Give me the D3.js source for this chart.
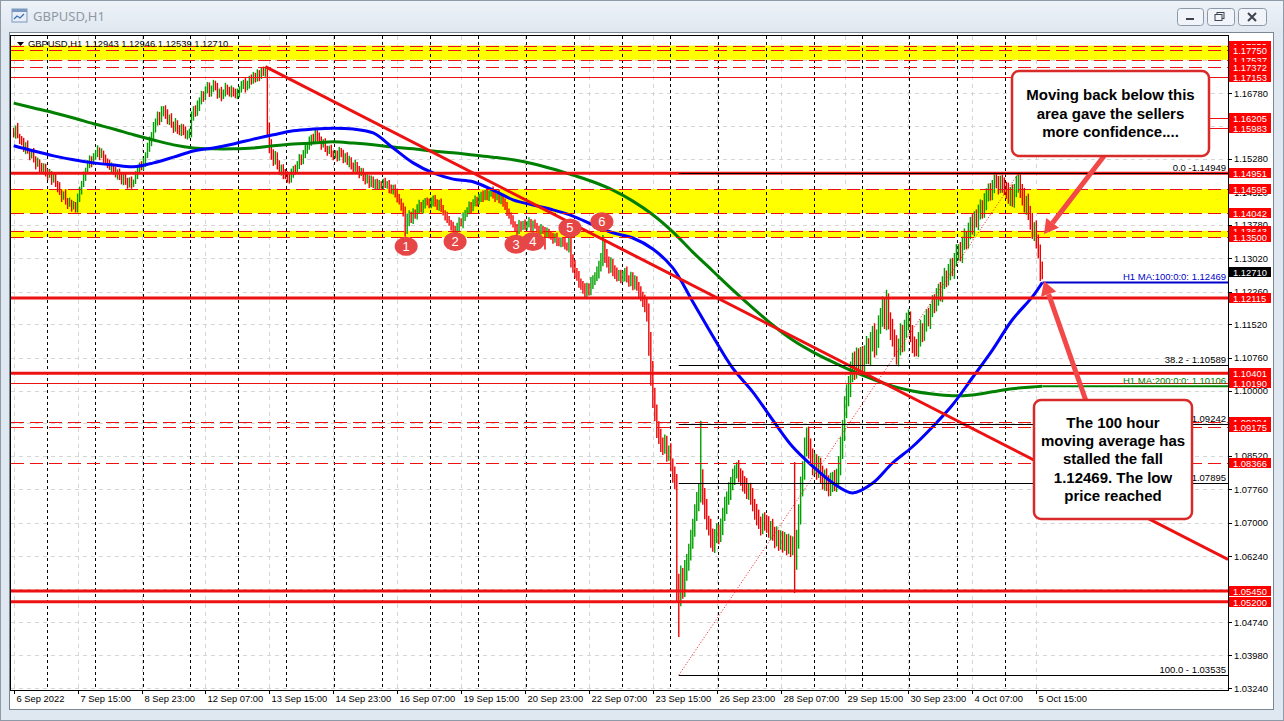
<!DOCTYPE html>
<html><head><meta charset="utf-8">
<script src="https://cdn.jsdelivr.net/npm/d3@7"></script>
<style>
html,body{margin:0;padding:0;background:#dfe7f0;overflow:hidden;}
svg{display:block;}
</style></head><body>
<svg id="c" width="1284" height="721"></svg>
<script>
// ---------------- DATA ----------------
const symbolTitle = "GBPUSD,H1";
const lastOHLC = [1.12943, 1.12946, 1.12539, 1.12710];
const firstOpen = 1.1590;
// hourly closes per trading day
const d06 = [1.1585,1.1598,1.1580,1.1572,1.1565,1.1552,1.1560,1.1545,1.1535,1.1540,1.1528,1.1515,1.1522,1.1508,1.1500,1.1510,1.1498];
const d07 = [1.1490,1.1495,1.1480,1.1486,1.1472,1.1465,1.1452,1.1440,1.1446,1.1432,1.1425,1.1430,1.1418,1.1424,1.1412,1.1435,1.1455,1.1470,1.1488,1.1502,1.1515,1.1528,1.1520,1.1532];
const d08 = [1.1540,1.1548,1.1535,1.1542,1.1530,1.1522,1.1515,1.1508,1.1512,1.1500,1.1492,1.1498,1.1485,1.1478,1.1490,1.1475,1.1468,1.1480,1.1470,1.1476,1.1490,1.1505,1.1512,1.1508];
const d09 = [1.1520,1.1535,1.1552,1.1568,1.1580,1.1598,1.1612,1.1625,1.1618,1.1635,1.1642,1.1630,1.1615,1.1622,1.1605,1.1598,1.1610,1.1595,1.1588,1.1600,1.1592,1.1580,1.1585,1.1590];
const d12 = [1.1625,1.1640,1.1632,1.1648,1.1660,1.1672,1.1668,1.1685,1.1692,1.1680,1.1688,1.1698,1.1690,1.1675,1.1682,1.1670,1.1678,1.1690,1.1684,1.1676,1.1685,1.1680,1.1672,1.1678];
const d13 = [1.1685,1.1695,1.1702,1.1690,1.1698,1.1710,1.1705,1.1718,1.1712,1.1722,1.1716,1.1728,1.1725,1.1730,1.1595,1.1560,1.1540,1.1525,1.1535,1.1515,1.1500,1.1508,1.1495,1.1490];
const d14 = [1.1485,1.1480,1.1495,1.1505,1.1500,1.1515,1.1528,1.1522,1.1540,1.1548,1.1555,1.1568,1.1575,1.1570,1.1585,1.1578,1.1572,1.1560,1.1565,1.1552,1.1545,1.1550,1.1540,1.1535];
const d15 = [1.1540,1.1532,1.1545,1.1538,1.1528,1.1535,1.1520,1.1525,1.1512,1.1505,1.1515,1.1502,1.1495,1.1500,1.1488,1.1478,1.1485,1.1472,1.1480,1.1468,1.1475,1.1465,1.1470,1.1468];
const d16 = [1.1475,1.1468,1.1472,1.1460,1.1455,1.1462,1.1450,1.1440,1.1432,1.1420,1.1410,1.1368,1.1385,1.1398,1.1390,1.1405,1.1398,1.1415,1.1422,1.1412,1.1425,1.1432,1.1428,1.1424];
const d19 = [1.1430,1.1438,1.1425,1.1420,1.1428,1.1415,1.1405,1.1398,1.1390,1.1382,1.1375,1.1368,1.1362,1.1372,1.1385,1.1380,1.1395,1.1402,1.1410,1.1420,1.1415,1.1428,1.1435,1.1430];
const d20 = [1.1438,1.1445,1.1440,1.1450,1.1442,1.1448,1.1455,1.1446,1.1440,1.1448,1.1435,1.1442,1.1430,1.1420,1.1408,1.1398,1.1390,1.1380,1.1372,1.1365,1.1378,1.1372,1.1380,1.1375];
const d21 = [1.1378,1.1385,1.1372,1.1380,1.1375,1.1368,1.1362,1.1370,1.1365,1.1358,1.1362,1.1355,1.1350,1.1345,1.1352,1.1340,1.1335,1.1342,1.1338,1.1330,1.1325,1.1345,1.1300,1.1285];
const d22 = [1.1270,1.1262,1.1248,1.1240,1.1232,1.1225,1.1235,1.1228,1.1245,1.1252,1.1260,1.1270,1.1285,1.1300,1.1330,1.1310,1.1295,1.1280,1.1290,1.1275,1.1268,1.1260,1.1265,1.1258];
const d23 = [1.1262,1.1270,1.1255,1.1248,1.1260,1.1242,1.1250,1.1238,1.1225,1.1215,1.1205,1.1195,1.1180,1.1110,1.1040,1.0985,1.0950,1.0915,1.0895,1.0880,1.0870,1.0885,1.0855,1.0862];
const d26 = [1.0830,1.0815,1.0795,1.0560,1.0540,1.0575,1.0555,1.0590,1.0610,1.0630,1.0660,1.0690,1.0720,1.0745,1.0770,1.0800,1.0760,1.0730,1.0700,1.0690,1.0665,1.0650,1.0670,1.0680];
const d27 = [1.0670,1.0690,1.0720,1.0740,1.0755,1.0770,1.0790,1.0805,1.0815,1.0825,1.0810,1.0800,1.0790,1.0780,1.0770,1.0775,1.0760,1.0740,1.0725,1.0710,1.0700,1.0690,1.0705,1.0700];
const d28 = [1.0695,1.0680,1.0690,1.0675,1.0660,1.0670,1.0655,1.0665,1.0650,1.0660,1.0645,1.0655,1.0640,1.0650,1.0615,1.0660,1.0720,1.0780,1.0820,1.0870,1.0900,1.0870,1.0850,1.0830];
const d29 = [1.0840,1.0820,1.0830,1.0810,1.0795,1.0805,1.0790,1.0780,1.0792,1.0800,1.0790,1.0805,1.0830,1.0870,1.0910,1.0960,1.0990,1.1010,1.1040,1.1065,1.1050,1.1075,1.1060,1.1080];
const d30 = [1.1060,1.1085,1.1100,1.1080,1.1110,1.1130,1.1100,1.1120,1.1150,1.1170,1.1190,1.1160,1.1200,1.1160,1.1140,1.1120,1.1100,1.1080,1.1100,1.1130,1.1110,1.1140,1.1160,1.1165];
const o03 = [1.1130,1.1110,1.1100,1.1095,1.1115,1.1140,1.1130,1.1155,1.1170,1.1160,1.1185,1.1200,1.1195,1.1215,1.1230,1.1220,1.1245,1.1260,1.1255,1.1270,1.1285,1.1275,1.1300,1.1315];
const o04 = [1.1320,1.1310,1.1335,1.1350,1.1340,1.1365,1.1380,1.1370,1.1395,1.1385,1.1405,1.1420,1.1410,1.1430,1.1445,1.1460,1.1450,1.1470,1.1485,1.1475,1.1465,1.1480,1.1470,1.1460];
const o05 = [1.1455,1.1440,1.1450,1.1435,1.1455,1.1470,1.1478,1.1455,1.1440,1.1420,1.1430,1.1405,1.1385,1.1360,1.1370,1.1340,1.1320,1.12943,1.12710];
// wicks above / below the bar body, in pips
const wickUp = [
9,6,12,5,8,11,6,10,5,8,13,6,9,5,11,8,7,
7,10,5,11,8,6,10,5,8,13,7,10,5,8,6,14,10,8,11,6,10,8,6,9,
8,11,6,10,5,8,7,11,8,5,10,6,8,11,5,8,10,6,8,5,10,7,8,11,
10,8,13,11,9,14,8,11,10,13,6,8,11,7,10,8,11,6,10,8,7,10,8,7,
11,8,10,13,8,11,10,8,11,10,7,10,8,11,6,10,8,11,7,8,10,6,8,10,
8,10,6,11,8,7,10,8,6,10,8,7,10,8,8,16,13,10,11,8,10,7,8,10,
10,8,11,7,10,8,11,10,8,13,10,11,8,10,11,8,10,7,8,10,6,8,10,7,
8,7,10,8,11,6,8,10,7,8,11,6,10,8,7,10,8,6,10,8,7,8,10,7,
8,10,6,8,10,7,8,10,8,6,8,10,19,13,10,11,8,10,13,8,10,7,8,10,
10,7,8,11,7,10,8,6,10,8,7,10,8,11,10,8,11,10,8,11,10,8,10,7,
10,8,11,7,10,8,6,10,8,7,10,8,6,8,10,7,8,10,6,8,11,8,7,10,
8,10,6,8,10,7,8,10,6,8,10,7,8,10,6,8,10,7,8,11,8,30,13,11,
13,10,11,8,10,13,11,10,14,11,10,13,11,14,25,16,13,11,14,10,11,13,10,11,
11,10,13,8,11,10,13,11,10,13,11,14,16,19,24,28,22,19,16,19,14,16,13,14,
19,16,13,16,24,28,22,25,19,22,24,19,22,25,19,132,22,19,24,16,19,22,16,19,
16,20,14,19,16,22,14,18,16,13,18,14,19,16,22,14,16,19,14,18,20,14,16,19,
18,20,14,19,16,22,14,18,16,19,14,20,16,19,188,24,22,25,20,24,17,19,22,19,
19,16,22,18,20,16,19,18,22,16,20,18,22,25,24,28,25,24,27,22,25,24,22,20,
22,19,25,20,24,18,24,20,22,19,25,20,30,22,19,24,20,27,19,24,20,22,18,20,
16,20,14,18,19,22,14,18,16,19,13,18,20,19,14,18,16,20,14,19,16,18,14,19,
14,19,16,20,14,18,16,22,14,18,19,16,14,20,16,12,13,10,8,12,14,10,12,16,
16,19,14,20,16,19,17,18,16,22,14,19,16,20,14,18,16,13,0.3];
const wickDn = [
8,11,5,10,6,8,13,5,10,6,8,11,5,10,6,8,10,
10,5,11,6,8,13,6,10,5,8,11,6,10,5,6,6,5,8,6,10,5,8,11,6,
6,8,10,5,11,6,8,5,10,8,6,11,5,8,10,6,8,5,10,6,5,8,10,6,
6,10,5,8,11,6,10,8,13,6,10,11,8,10,6,11,8,10,6,8,10,6,8,10,
13,10,8,6,11,8,10,6,8,11,10,8,6,10,8,11,6,8,10,6,8,10,6,8,
10,6,8,11,6,10,8,6,10,8,11,6,8,10,16,19,14,13,10,11,8,10,13,8,
11,8,6,10,8,6,10,8,6,10,8,6,10,8,6,10,8,11,6,8,10,6,8,10,
6,10,8,6,10,8,6,11,8,10,6,8,11,6,10,8,6,10,8,6,10,8,6,8,
10,6,8,10,6,8,10,11,8,10,13,17,11,10,8,10,6,8,10,6,8,10,6,8,
8,10,6,8,10,8,6,10,8,6,10,8,12,10,8,6,10,8,6,8,10,6,8,10,
6,8,10,6,8,10,6,8,10,6,8,10,11,8,10,6,11,8,10,13,8,10,6,8,
10,6,8,10,6,8,10,6,8,36,10,8,6,10,8,10,6,8,10,8,6,10,19,16,
14,11,13,10,11,14,13,11,10,13,11,10,14,13,16,19,14,13,11,14,13,11,10,13,
10,13,8,11,10,13,11,10,13,11,14,16,22,30,28,24,19,22,16,19,16,13,16,14,
13,24,19,40,100,30,28,24,22,19,16,19,22,16,19,24,19,22,16,19,22,16,19,16,
19,14,18,16,20,14,18,16,19,14,18,16,19,14,16,18,19,14,18,16,14,19,16,18,
18,14,19,16,18,14,19,16,18,14,19,16,18,14,75,22,19,24,20,22,19,24,20,22,
19,22,18,20,19,22,18,20,19,22,18,20,19,22,25,24,22,25,24,20,25,22,24,20,
22,20,24,19,22,20,24,19,22,20,24,19,22,20,24,19,22,20,24,19,22,20,19,22,
19,24,22,16,18,14,19,16,20,13,19,17,18,14,21,16,18,13,19,15,18,14,20,16,
18,15,19,14,17,16,20,14,18,13,19,15,18,16,19,14,17,16,20,14,18,15,19,14,
18,14,19,16,18,14,19,16,18,14,19,16,18,14,19,16,18,44,17.1];

// moving averages (bar index, value)
const maIdx = [0,10,20,30,40,50,60,70,80,90,100,110,120,130,140,150,160,170,180,190,200,210,220,230,240,250,260,270,280,290,300,310,320,330,340,350,360,370,380,390,400,410,420,430,440,450,460,470,480,490,500,510,515];
const ma100 = [1.1558,1.1546,1.1535,1.1526,1.1519,1.1514,1.1510,1.1519,1.1532,1.1546,1.1553,1.1562,1.1573,1.1583,1.1592,1.1596,1.1598,1.1596,1.1587,1.1553,1.1519,1.1496,1.1482,1.1476,1.1457,1.1435,1.1423,1.1412,1.1398,1.1378,1.1360,1.1348,1.1323,1.1280,1.1203,1.1125,1.1052,1.0998,1.0934,1.0873,1.0829,1.0791,1.0768,1.0790,1.0836,1.0873,1.0918,1.0968,1.1030,1.1093,1.1162,1.1214,1.12469];
const ma200 = [1.1655,1.1644,1.1633,1.1621,1.1608,1.1596,1.1583,1.1571,1.1560,1.1553,1.1551,1.1551,1.1553,1.1558,1.1562,1.1564,1.1567,1.1564,1.1560,1.1555,1.1551,1.1546,1.1542,1.1537,1.1532,1.1526,1.1517,1.1505,1.1491,1.1476,1.1457,1.1432,1.1401,1.1362,1.1316,1.1273,1.1230,1.1189,1.1150,1.1116,1.1089,1.1066,1.1045,1.1027,1.1011,1.1000,1.0993,1.0989,1.0991,1.0998,1.1005,1.1009,1.10106];
const maLabels = ["H1 MA:100:0:0: 1.12469", "H1 MA:200:0:0: 1.10106"];

// axes
const priceTicks = [1.03240,1.03980,1.04740,1.05500,1.06240,1.07000,1.07760,1.08520,1.09280,1.10000,1.10760,1.11520,1.12260,1.13020,1.13780,1.14520,1.15280,1.16040,1.16780,1.17540];
const timeLabels = ["6 Sep 2022","7 Sep 15:00","8 Sep 23:00","12 Sep 07:00","13 Sep 15:00","14 Sep 23:00","16 Sep 07:00","19 Sep 15:00","20 Sep 23:00","22 Sep 07:00","23 Sep 15:00","26 Sep 23:00","28 Sep 07:00","29 Sep 15:00","30 Sep 23:00","4 Oct 07:00","5 Oct 15:00"];
const timeLabelStep = 32;

// drawn levels
const zones = [[1.17859,1.17537],[1.14595,1.14042],[1.13643,1.13500]];
const dashLevels = [1.17859,1.17750,1.17537,1.17372,1.14595,1.14042,1.13643,1.13500,1.09294,1.09175,1.08366];
const thinLevels = [1.17153,1.10190];
const shortLevels = [1.16205,1.15983];
const thickLevels = [1.14951,1.12115,1.10401,1.05450,1.05200];
const levelLabelOrder = [1.17859,1.17537,1.17750,1.17372,1.17153,1.16205,1.15983,1.14951,1.14595,1.14042,1.13643,1.13500,1.12115,1.10401,1.10190,1.09294,1.09175,1.08366,1.05450,1.05200];
// trend line anchors [bar index, price]
const trendA = [126, 1.1738], trendB = [426, 1.1040];
// fibonacci
const fibLowIdx = 333, fibLow = 1.03535, fibHighIdx = 503, fibHigh = 1.14949;
const fibLevels = [0, 38.2, 50, 61.8, 100];
const fibTexts = ["0.0 -1.14949","38.2 - 1.10589","1.09242","1.07895","100.0 - 1.03535"];
// numbered touches
const touchIdx = [196.5, 221, 251.5, 260, 278.5, 294.5];
const touchPrice = [1.1329, 1.1340, 1.1334, 1.1340, 1.1371, 1.1385];
const touchText = ["1","2","3","4","5","6"];
// notes
const note1 = ["Moving back below this","area gave the sellers","more confidence...."];
const note2 = ["The 100 hour","moving average has","stalled the fall","1.12469. The low","price reached"];

// ---------------- BUILD ----------------
const PIP = 0.0001;
const days = [d06,d07,d08,d09,d12,d13,d14,d15,d16,d19,d20,d21,d22,d23,d26,d27,d28,d29,d30,o03,o04,o05];
const closes = days.flat();
const dayStarts = []; {let a=0; days.forEach(d=>{dayStarts.push(a); a+=d.length;});}
const bars = closes.map((c,i)=>{
  const o = i===0 ? firstOpen : closes[i-1];
  return {i, o, c, hi: Math.max(o,c)+wickUp[i]*PIP, lo: Math.min(o,c)-wickDn[i]*PIP};
});
const N = bars.length;

const svg = d3.select('#c');
const W=1284, H=721;
const PL=11, PR=1228, PT=36, PB=690;
const y = d3.scaleLinear().domain([1.0324,1.1678]).range([688,93]);
const x = d3.scaleLinear().domain([0,512]).range([13.7,1036.3]);
const px = i => Math.round(x(i)) + 0.5;
const py = p => Math.round(y(p)) + 0.5;

const RED='#ee1111', GREENBAR='#00a000', REDBAR='#f00000';
const AXFONT = "'Liberation Sans', Arial, sans-serif";

// window chrome
svg.append('rect').attr('x',0).attr('y',0).attr('width',W).attr('height',H).attr('fill','#dfe7f0');
const grad = svg.append('defs').append('linearGradient').attr('id','tg').attr('x1',0).attr('y1',0).attr('x2',0).attr('y2',1);
grad.append('stop').attr('offset',0).attr('stop-color','#eef3f8');
grad.append('stop').attr('offset',1).attr('stop-color','#dfe7f0');
svg.append('rect').attr('x',0).attr('y',0).attr('width',W).attr('height',33).attr('fill','url(#tg)');
svg.append('rect').attr('x',0.5).attr('y',0.5).attr('width',W-1).attr('height',H-1).attr('fill','none').attr('stroke','#8e9aa8');
// icon
const ic = svg.append('g').attr('transform','translate(12,9)');
ic.append('rect').attr('width',15).attr('height',13).attr('fill','#e7eef8').attr('stroke','#7b98c0');
ic.append('rect').attr('width',15).attr('height',3).attr('fill','#7b98c0');
ic.append('path').attr('d','M2,10 L5,7 L8,9 L12,5').attr('fill','none').attr('stroke','#3a6db0').attr('stroke-width',1.2);
svg.append('text').attr('x',33).attr('y',21).text(symbolTitle)
  .attr('font-family',"'Noto Sans', 'DejaVu Sans', sans-serif").attr('font-size',13).attr('fill','#8f98a3');
// buttons
[[1177,26],[1207,27],[1238,28]].forEach(([bx,bw],k)=>{
  svg.append('rect').attr('x',bx+0.5).attr('y',8.5).attr('width',bw).attr('height',17).attr('rx',3)
    .attr('fill','#f1f4f8').attr('stroke','#8c98a6');
  const cx=bx+bw/2, cy=17;
  if(k===0) svg.append('rect').attr('x',cx-4).attr('y',cy+1).attr('width',8).attr('height',2).attr('fill','#3c4450');
  if(k===1){
    svg.append('rect').attr('x',cx-3.5).attr('y',cy-4.5).attr('width',7).attr('height',6).attr('fill','none').attr('stroke','#3c4450');
    svg.append('rect').attr('x',cx-5.5).attr('y',cy-2.5).attr('width',7).attr('height',6).attr('fill','#f1f4f8').attr('stroke','#3c4450');
  }
  if(k===2) svg.append('path').attr('d',`M${cx-4},${cy-4}L${cx+4},${cy+4}M${cx+4},${cy-4}L${cx-4},${cy+4}`).attr('stroke','#3c4450').attr('stroke-width',2);
});
// chart panel
svg.append('rect').attr('x',9.5).attr('y',32.5).attr('width',1264).attr('height',677).attr('fill','#ffffff').attr('stroke','#7c8794');
svg.append('rect').attr('x',PL-0.5).attr('y',PT-0.5).attr('width',PR-PL+1).attr('height',PB-PT+1).attr('fill','none').attr('stroke','#000');

svg.append('defs').append('clipPath').attr('id','clip').append('rect').attr('x',PL).attr('y',PT).attr('width',PR-PL).attr('height',PB-PT);
const plot = svg.append('g').attr('clip-path','url(#clip)');

// grid
plot.selectAll('line.hg').data(priceTicks).join('line')
  .attr('x1',PL).attr('x2',PR).attr('y1',d=>py(d)).attr('y2',d=>py(d))
  .attr('stroke','#d6d6d6').attr('stroke-dasharray','4,4');
plot.selectAll('line.vg').data(timeLabels).join('line')
  .attr('x1',(d,k)=>px(k*timeLabelStep)).attr('x2',(d,k)=>px(k*timeLabelStep)).attr('y1',PT).attr('y2',PB)
  .attr('stroke','#d6d6d6').attr('stroke-dasharray','4,4');

// yellow zones
plot.selectAll('rect.zone').data(zones).join('rect')
  .attr('x',PL).attr('width',PR-PL).attr('y',d=>y(d[0])).attr('height',d=>y(d[1])-y(d[0]))
  .attr('fill','#ffff00');

// day separators
plot.selectAll('line.sep').data(dayStarts.slice(1)).join('line')
  .attr('x1',d=>px(d)-1).attr('x2',d=>px(d)-1).attr('y1',PT).attr('y2',PB)
  .attr('stroke','#000').attr('stroke-dasharray','3,3');

// bars (high-low lines)
plot.append('g').selectAll('line').data(bars).join('line')
  .attr('x1',d=>x(d.i)).attr('x2',d=>x(d.i))
  .attr('y1',d=>y(d.hi)).attr('y2',d=>y(d.lo))
  .attr('stroke',d=>d.c>=d.o?GREENBAR:REDBAR).attr('stroke-width',1.4);

// moving averages
const maLine = d3.line().x((d,k)=>x(maIdx[k])).y(d=>y(d)).curve(d3.curveCatmullRom);
plot.append('path').attr('d',maLine(ma200)).attr('fill','none').attr('stroke','#008000').attr('stroke-width',3);
plot.append('path').attr('d',maLine(ma100)).attr('fill','none').attr('stroke','#0000ff').attr('stroke-width',3);
// MA value lines
const maLast = [ma100[ma100.length-1], ma200[ma200.length-1]];
const maCol = ['#0000cc','#008000'];
maLast.forEach((v,k)=>{
  plot.append('line').attr('x1',px(N-1)).attr('x2',PR).attr('y1',y(v)).attr('y2',y(v)).attr('stroke',maCol[k]).attr('stroke-width',2);
});

// horizontal levels
plot.selectAll('line.dash').data(dashLevels).join('line')
  .attr('x1',PL).attr('x2',PR).attr('y1',d=>py(d)).attr('y2',d=>py(d))
  .attr('stroke',RED).attr('stroke-dasharray','13,6');
plot.selectAll('line.thin').data(thinLevels).join('line')
  .attr('x1',PL).attr('x2',PR).attr('y1',d=>py(d)).attr('y2',d=>py(d)).attr('stroke',RED);
plot.selectAll('line.short').data(shortLevels).join('line')
  .attr('x1',1150).attr('x2',PR).attr('y1',d=>py(d)).attr('y2',d=>py(d)).attr('stroke',RED);
plot.selectAll('line.thick').data(thickLevels).join('line')
  .attr('x1',PL).attr('x2',PR).attr('y1',d=>y(d)).attr('y2',d=>y(d)).attr('stroke',RED).attr('stroke-width',3);

// trend line (ray to the right)
{
  const slope = (y(trendB[1])-y(trendA[1]))/(x(trendB[0])-x(trendA[0]));
  const x0 = x(trendA[0]), y0 = y(trendA[1]);
  plot.append('line').attr('x1',x0).attr('y1',y0).attr('x2',PR).attr('y2',y0+slope*(PR-x0))
    .attr('stroke',RED).attr('stroke-width',3);
}

// fibonacci
const fibPrice = l => fibHigh - l/100*(fibHigh-fibLow);
plot.append('line').attr('x1',x(fibLowIdx)).attr('y1',y(fibLow)).attr('x2',x(fibHighIdx)).attr('y2',y(fibHigh))
  .attr('stroke',RED).attr('stroke-dasharray','1,2');
plot.selectAll('line.fib').data(fibLevels).join('line')
  .attr('x1',x(fibLowIdx)).attr('x2',PR).attr('y1',d=>py(fibPrice(d))).attr('y2',d=>py(fibPrice(d)))
  .attr('stroke','#000');
plot.selectAll('text.fib').data(fibLevels).join('text')
  .attr('x',PR-2).attr('y',d=>y(fibPrice(d))-2).attr('text-anchor','end')
  .text((d,k)=>fibTexts[k]).attr('font-family',AXFONT).attr('font-size',9.5).attr('fill','#000');
// MA labels
maLabels.forEach((t,k)=>{
  plot.append('text').attr('x',PR-2).attr('y',y(maLast[k])-2).attr('text-anchor','end').text(t)
    .attr('font-family',AXFONT).attr('font-size',9.5).attr('fill',maCol[k]);
});

// chart title
svg.append('path').attr('d','M17,42 L24,42 L20.5,46 Z').attr('fill','#000');
svg.append('text').attr('x',28).attr('y',47).text(`${symbolTitle}  ${lastOHLC.map(v=>v.toFixed(5)).join(' ')}`)
  .attr('font-family',AXFONT).attr('font-size',9.4).attr('fill','#000');

// numbered touches
const tg = svg.append('g');
touchIdx.forEach((ti,k)=>{
  tg.append('ellipse').attr('cx',x(ti)).attr('cy',y(touchPrice[k])).attr('rx',11.5).attr('ry',9.5).attr('fill','#e64646');
  tg.append('text').attr('x',x(ti)).attr('y',y(touchPrice[k])+4.5).attr('text-anchor','middle').text(touchText[k])
    .attr('font-family',AXFONT).attr('font-size',13).attr('fill','#fff');
});

// right price axis
svg.append('line').attr('x1',PR+0.5).attr('x2',PR+0.5).attr('y1',PT).attr('y2',PB+1).attr('stroke','#000');
svg.append('line').attr('x1',PL).attr('x2',PR+1).attr('y1',PB+0.5).attr('y2',PB+0.5).attr('stroke','#000');
const ax = svg.append('g');
priceTicks.forEach(p=>{
  ax.append('line').attr('x1',PR).attr('x2',PR+4).attr('y1',py(p)).attr('y2',py(p)).attr('stroke','#000');
  ax.append('text').attr('x',PR+6).attr('y',y(p)+3.5).text(p.toFixed(5))
    .attr('font-family',AXFONT).attr('font-size',9.4).attr('fill','#000');
});
levelLabelOrder.forEach(p=>{
  ax.append('rect').attr('x',PR+1).attr('y',Math.round(y(p))-5).attr('width',42).attr('height',10).attr('fill','#ff0000');
  ax.append('text').attr('x',PR+5).attr('y',Math.round(y(p))+3.5).text(p.toFixed(5))
    .attr('font-family',AXFONT).attr('font-size',9.4).attr('fill','#fff');
});
{
  const p = lastOHLC[3];
  ax.append('rect').attr('x',PR+1).attr('y',Math.round(y(p))-5).attr('width',42).attr('height',10).attr('fill','#000');
  ax.append('text').attr('x',PR+5).attr('y',Math.round(y(p))+3.5).text(p.toFixed(5))
    .attr('font-family',AXFONT).attr('font-size',9.4).attr('fill','#fff');
}
// bottom time axis
timeLabels.forEach((t,k)=>{
  const xx = px(k*timeLabelStep);
  ax.append('line').attr('x1',xx).attr('x2',xx).attr('y1',PB).attr('y2',PB+4).attr('stroke','#000');
  ax.append('text').attr('x',xx+2).attr('y',PB+12).text(t)
    .attr('font-family',AXFONT).attr('font-size',9.4).attr('fill','#000');
});

// notes with arrows
function arrow(x1,y1,x2,y2){
  const col='#f24848';
  const a = Math.atan2(y2-y1,x2-x1), L=14, Wd=8;
  const bx = x2-L*Math.cos(a), by = y2-L*Math.sin(a);
  svg.append('line').attr('x1',x1).attr('y1',y1).attr('x2',bx).attr('y2',by).attr('stroke',col).attr('stroke-width',5);
  svg.append('path').attr('d',`M${x2},${y2}L${bx+Wd*Math.sin(a)},${by-Wd*Math.cos(a)}L${bx-Wd*Math.sin(a)},${by+Wd*Math.cos(a)}Z`).attr('fill',col);
}
function note(x0,y0,w,h,lines,firstBase,lh){
  svg.append('rect').attr('x',x0).attr('y',y0).attr('width',w).attr('height',h).attr('rx',7)
    .attr('fill','#fff').attr('stroke','#d92a2a').attr('stroke-width',2.5);
  lines.forEach((t,k)=>{
    svg.append('text').attr('x',x0+w/2).attr('y',firstBase+k*lh).attr('text-anchor','middle').text(t)
      .attr('font-family',"'Liberation Sans', Arial, sans-serif").attr('font-weight','bold').attr('font-size',15).attr('fill','#000');
  });
}
arrow(1104,156,1044,234);
arrow(1086,401,1044,281);
note(1012,71,197,85,note1,100,18.5);
note(1034,400,158,119,note2,428,18.2);
</script></body></html>
